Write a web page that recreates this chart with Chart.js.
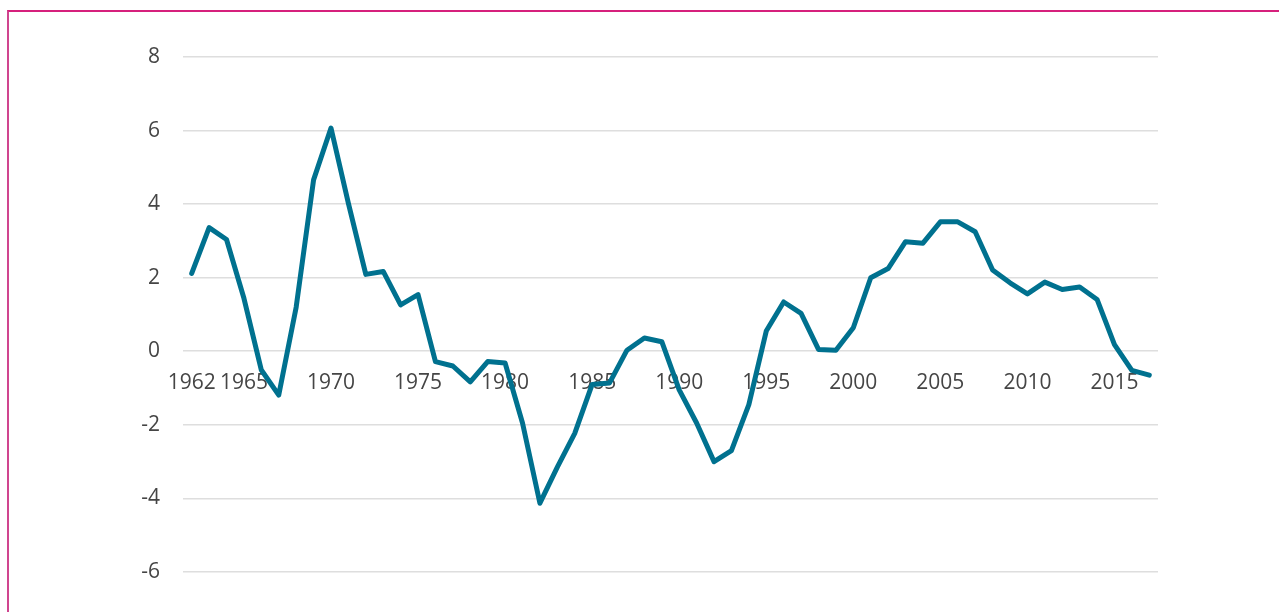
<!DOCTYPE html>
<html lang="en">
  <head>
    <meta charset="UTF-8" />
    <title>Chart</title>
    <style>
      html,
      body {
        margin: 0;
        padding: 0;
        background: #ffffff;
      }

      .frame {
        position: absolute;
        left: 7px;
        top: 10px;
        width: 1290px;
        height: 620px;
        border-top: 2px solid #d6207c;
        border-left: 2px solid #d0458f;
      }

      .chart-box {
        position: absolute;
        left: 0;
        top: 0;
        width: 1279px;
        height: 612px;
      }
    </style>
  </head>
  <body>
    <div class="frame"></div>
    <div class="chart-box">
      <canvas id="chart"></canvas>
    </div>

    <script src="https://cdn.jsdelivr.net/npm/chart.js"></script>

    <script>
      const years = [
        "1962", "1963", "1964", "1965", "1966", "1967", "1968", "1969",
        "1970", "1971", "1972", "1973", "1974", "1975", "1976", "1977",
        "1978", "1979", "1980", "1981", "1982", "1983", "1984", "1985",
        "1986", "1987", "1988", "1989", "1990", "1991", "1992", "1993",
        "1994", "1995", "1996", "1997", "1998", "1999", "2000", "2001",
        "2002", "2003", "2004", "2005", "2006", "2007", "2008", "2009",
        "2010", "2011", "2012", "2013", "2014", "2015", "2016", "2017",
      ];

      const values = [
        2.12, 3.36, 3.04, 1.44, -0.51, -1.19, 1.2, 4.66,
        6.07, 4.02, 2.09, 2.17, 1.26, 1.54, -0.28, -0.4,
        -0.83, -0.28, -0.32, -1.95, -4.13, -3.15, -2.23, -0.9,
        -0.86, 0.03, 0.36, 0.26, -1.05, -1.95, -3.0, -2.7,
        -1.45, 0.55, 1.34, 1.03, 0.05, 0.03, 0.64, 2.0,
        2.25, 2.98, 2.94, 3.52, 3.52, 3.25, 2.21, 1.86,
        1.56, 1.88, 1.68, 1.75, 1.41, 0.18, -0.52, -0.65,
      ];

      const shownYears = ["1962", "1965", "1970", "1975", "1980", "1985",
        "1990", "1995", "2000", "2005", "2010", "2015"];

      const tickFont = { family: "'Open Sans', sans-serif", size: 21 };
      const tickColor = "#454545";

      new Chart(document.getElementById("chart"), {
        type: "line",
        data: {
          labels: years,
          datasets: [
            {
              data: values,
              borderColor: "#00718f",
              borderWidth: 5,
              borderCapStyle: "round",
              borderJoinStyle: "round",
              pointRadius: 0,
              tension: 0,
            },
          ],
        },
        options: {
          responsive: true,
          maintainAspectRatio: false,
          animation: false,
          layout: {
            padding: { left: 0, top: 57, right: 121, bottom: 40 },
          },
          plugins: {
            legend: { display: false },
            tooltip: { enabled: false },
          },
          scales: {
            x: {
              type: "category",
              position: { y: 0 },
              offset: true,
              grid: { display: false, drawTicks: false },
              border: { display: false },
              ticks: {
                autoSkip: false,
                maxRotation: 0,
                padding: 19,
                color: tickColor,
                font: tickFont,
                callback: function (value) {
                  const label = this.getLabelForValue(value);
                  return shownYears.includes(label) ? label : "";
                },
              },
            },
            y: {
              min: -6,
              max: 8,
              afterFit: (scale) => {
                scale.width = 183;
              },
              grid: {
                color: "#dedede",
                lineWidth: 1.6,
                drawTicks: false,
              },
              border: { display: false },
              ticks: {
                stepSize: 2,
                padding: 23,
                color: tickColor,
                font: tickFont,
              },
            },
          },
        },
      });
    </script>
  </body>
</html>
